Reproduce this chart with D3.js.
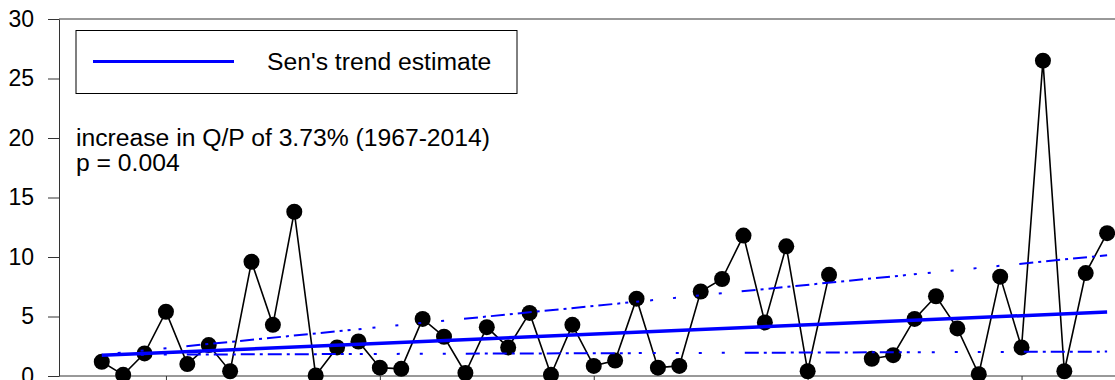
<!DOCTYPE html>
<html lang="en">
<head>
    <meta charset="UTF-8">
    <title>Q/P trend</title>
    <style>
        body { margin: 0; background: #fff; }
        svg { display: block; font-family: "Liberation Sans", Arial, sans-serif; }
    </style>
</head>
<body>
    <svg id="chart"></svg>
    <script src="https://d3js.org/d3.v7.min.js"></script>
    <script>
    // yearly Q/P values (%), 2002 missing
    const years = [1967, 1968, 1969, 1970, 1971, 1972, 1973, 1974, 1975, 1976,
                   1977, 1978, 1979, 1980, 1981, 1982, 1983, 1984, 1985, 1986,
                   1987, 1988, 1989, 1990, 1991, 1992, 1993, 1994, 1995, 1996,
                   1997, 1998, 1999, 2000, 2001, 2002, 2003, 2004, 2005, 2006,
                   2007, 2008, 2009, 2010, 2011, 2012, 2013, 2014];
    const values = [1.2, 0.1, 1.9, 5.4, 1.0, 2.6, 0.4, 9.6, 4.3, 13.8,
                    0.05, 2.4, 2.9, 0.7, 0.6, 4.8, 3.3, 0.25, 4.1, 2.4,
                    5.3, 0.1, 4.3, 0.85, 1.3, 6.5, 0.7, 0.85, 7.1, 8.15,
                    11.8, 4.5, 10.9, 0.4, 8.5, null, 1.45, 1.75, 4.8, 6.7,
                    4.0, 0.15, 8.35, 2.4, 26.5, 0.4, 8.65, 12.0];

    // Sen's slope line and its confidence bounds (start, end)
    const trendYears = [1967, 2014];
    const senTrend = [1.74, 5.38];
    const upperBound = [1.8, 10.15];
    const lowerBound = [1.78, 2.05];

    const yTicks = [0, 5, 10, 15, 20, 25, 30];
    const xTicks = [1970, 1980, 1990, 2000, 2010];

    const legendLabel = "Sen's trend estimate";
    const noteLines = ["increase in Q/P of 3.73% (1967-2014)", "p = 0.004"];

    const width = 1115, height = 380;
    const margin = {top: 19, left: 59, bottom: 4};

    const svg = d3.select("#chart")
        .attr("width", width)
        .attr("height", height);

    const x = d3.scaleLinear()
        .domain([1965, 2015])
        .range([margin.left, margin.left + 50 * 21.39]);

    const y = d3.scaleLinear()
        .domain([0, 30])
        .range([height - margin.bottom, margin.top]);

    // frame top line
    svg.append("line")
        .attr("x1", margin.left).attr("x2", width)
        .attr("y1", y(30)).attr("y2", y(30))
        .attr("stroke", "#333").attr("stroke-width", 1);

    let y_axis = d3.axisLeft(y)
        .tickValues(yTicks)
        .tickSizeInner(11)
        .tickSizeOuter(0)
        .tickPadding(14);

    let y_g = svg.append("g")
        .attr("transform", "translate(" + margin.left + ",0)")
        .call(y_axis);
    y_g.selectAll("text").style("font-size", "23px").attr("fill", "#000");
    y_g.selectAll("line, path").attr("stroke", "#333");

    // year labels sit below the visible area, so ticks only
    let x_axis = d3.axisBottom(x)
        .tickValues(xTicks)
        .tickFormat("")
        .tickSizeInner(10)
        .tickSizeOuter(0);

    let x_g = svg.append("g")
        .attr("transform", "translate(0," + y(0) + ")")
        .call(x_axis);
    x_g.select(".domain").attr("d", "M" + margin.left + ",0H" + width);
    x_g.selectAll("line, path").attr("stroke", "#333");

    // observed series
    const points = years.map((yr, i) => ({year: yr, value: values[i]}));

    let line_gen = d3.line()
        .defined(d => d.value != null)
        .x(d => x(d.year))
        .y(d => y(d.value));

    svg.append("path")
        .datum(points)
        .attr("d", line_gen)
        .attr("fill", "none")
        .attr("stroke", "#000")
        .attr("stroke-width", 1.6);

    svg.selectAll("circle.obs")
        .data(points.filter(d => d.value != null))
        .enter()
        .append("circle")
        .attr("class", "obs")
        .attr("cx", d => x(d.year))
        .attr("cy", d => y(d.value))
        .attr("r", 8)
        .attr("fill", "#000");

    // dash-dot section followed by sparse dots, ~279px period
    let dash_parts = [];
    for (let i = 0; i < 6; i++) dash_parts.push(14, 5, 3, 5);
    dash_parts.push(3, 8, 3, 11);
    for (let i = 0; i < 4; i++) dash_parts.push(3, 20);
    const dash_pattern = dash_parts.join(",");

    let trend_gen = d3.line()
        .x(d => x(d[0]))
        .y(d => y(d[1]));

    [upperBound, lowerBound].forEach(b => {
        svg.append("path")
            .datum(trendYears.map((yr, i) => [yr, b[i]]))
            .attr("d", trend_gen)
            .attr("fill", "none")
            .attr("stroke", "#0000ff")
            .attr("stroke-width", 2)
            .attr("stroke-dasharray", dash_pattern)
            .attr("stroke-dashoffset", 194);
    });

    svg.append("path")
        .datum(trendYears.map((yr, i) => [yr, senTrend[i]]))
        .attr("d", trend_gen)
        .attr("fill", "none")
        .attr("stroke", "#0000ff")
        .attr("stroke-width", 3.5);

    // legend
    let legend = svg.append("g");
    legend.append("rect")
        .attr("x", 76).attr("y", 30.5)
        .attr("width", 441).attr("height", 63)
        .attr("fill", "#fff")
        .attr("stroke", "#000")
        .attr("stroke-width", 1);
    legend.append("line")
        .attr("x1", 93).attr("x2", 234)
        .attr("y1", 61.5).attr("y2", 61.5)
        .attr("stroke", "#0000ff")
        .attr("stroke-width", 3);
    legend.append("text")
        .attr("x", 267).attr("y", 70)
        .style("font-size", "24.7px")
        .text(legendLabel);

    svg.selectAll("text.note")
        .data(noteLines)
        .enter()
        .append("text")
        .attr("class", "note")
        .attr("x", 76)
        .attr("y", (d, i) => 146 + i * 25)
        .style("font-size", "24.7px")
        .text(d => d);
    </script>
</body>
</html>
